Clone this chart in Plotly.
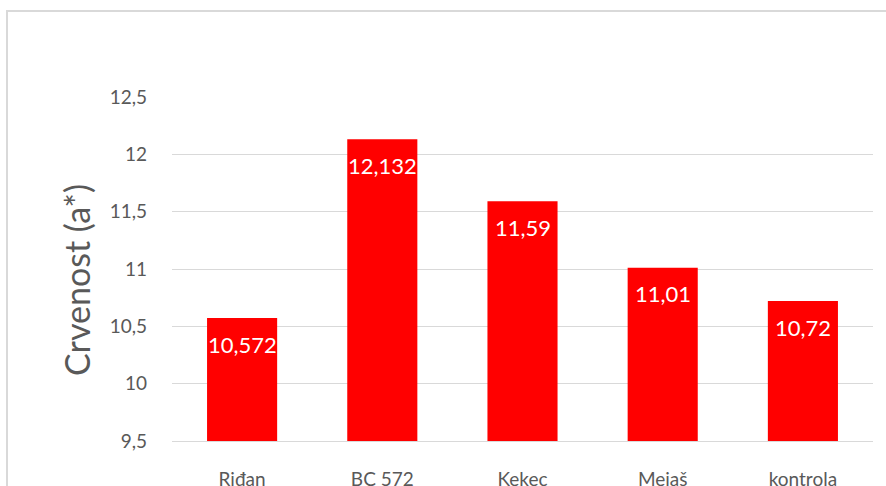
import plotly.graph_objects as go

# Sorte i izmjerena crvenost (a*)
categories = ["Riđan", "BC 572", "Kekec", "Mejaš", "kontrola"]
values = [10.572, 12.132, 11.59, 11.01, 10.72]
y_ticks = [9.5, 10, 10.5, 11, 11.5, 12, 12.5]

GRAY_TEXT = "#595959"
GRID = "#d9d9d9"
FONT = "Lato"

W, H = 886, 486
L, R, T, B = 172, 13, 97, 45
plot_w, plot_h = W - L - R, H - T - B


def px_to_paper_x(px):
    return (px - L) / plot_w


def px_to_paper_y(py):
    return (H - B - py) / plot_h


def fmt(v):
    return f"{v:g}".replace(".", ",")


fig = go.Figure(
    go.Bar(
        x=categories,
        y=values,
        marker=dict(color="#ff0000", line=dict(width=0)),
        hoverinfo="skip",
    )
)

# Vrijednosti unutar stupaca, pri vrhu
for c, v in zip(categories, values):
    fig.add_annotation(
        x=c, y=v, text=fmt(v), showarrow=False, yshift=-26,
        font=dict(family=FONT, size=22, color="white"),
    )

# Naslov osi y
fig.add_annotation(
    xref="paper", yref="paper",
    x=px_to_paper_x(76), y=px_to_paper_y(280),
    xanchor="center", yanchor="middle",
    text="Crvenost (a*)", textangle=-90, showarrow=False,
    font=dict(family=FONT, size=34, color=GRAY_TEXT),
)

# Okvir grafikona
border = dict(color=GRID, width=2)
fig.add_shape(type="line", xref="paper", yref="paper",
              x0=px_to_paper_x(7), x1=px_to_paper_x(890),
              y0=px_to_paper_y(11), y1=px_to_paper_y(11), line=border)
fig.add_shape(type="line", xref="paper", yref="paper",
              x0=px_to_paper_x(7), x1=px_to_paper_x(7),
              y0=px_to_paper_y(10), y1=px_to_paper_y(490), line=border)

fig.update_layout(
    width=W, height=H,
    margin=dict(l=L, r=R, t=T, b=B, pad=0, autoexpand=False),
    paper_bgcolor="white", plot_bgcolor="white",
    separators=", ",
    bargap=0.5,
    showlegend=False,
    font=dict(family=FONT, color=GRAY_TEXT),
    xaxis=dict(
        automargin=False,
        showgrid=False, showline=True, linecolor=GRID, linewidth=1,
        ticks="", ticklabelstandoff=21,
        tickfont=dict(family=FONT, size=19, color=GRAY_TEXT),
    ),
    yaxis=dict(
        automargin=False,
        range=[9.5, 12.5001], tickvals=y_ticks,
        showgrid=True, gridcolor=GRID, gridwidth=1,
        zeroline=False, showline=False, ticks="",
        ticklabelstandoff=24,
        tickfont=dict(family=FONT, size=19, color=GRAY_TEXT),
    ),
)

fig.write_html("out.html")
